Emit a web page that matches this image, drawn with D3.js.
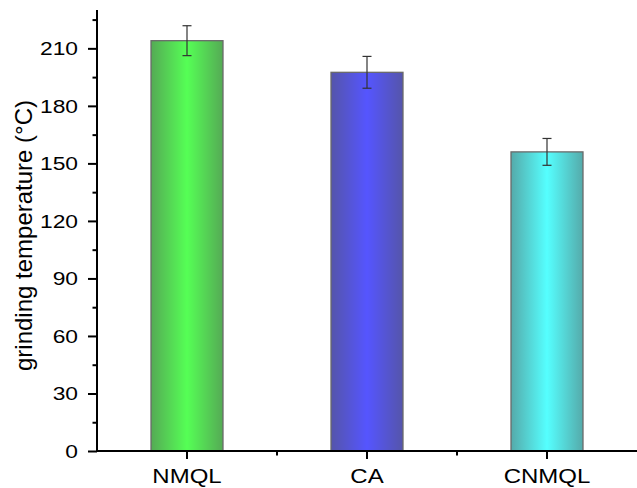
<!DOCTYPE html>
<html>
<head>
<meta charset="utf-8">
<script src="https://cdn.jsdelivr.net/npm/d3@7"></script>
<style>
  body { margin: 0; background: #fff; }
  svg { display: block; }
  text { font-family: "Liberation Sans", Arial, sans-serif; fill: #000; }
</style>
</head>
<body>
<svg id="chart" width="637" height="488"></svg>
<script>
// data
const groups = ["NMQL", "CA", "CNMQL"];
const temps = [214, 197.5, 156];
const errs = [7.8, 8.3, 7];
const edgeColors = ["#55aa55", "#5555aa", "#55aaaa"];
const midColors = ["#55ff55", "#5555ff", "#55ffff"];
const yTicks = [0, 30, 60, 90, 120, 150, 180, 210];

let svg = d3.select("#chart");
let plotLeft = 97, plotRight = 637, plotTop = 10, plotBottom = 451;
let stretch = 1.2; // the reference tick text looks wider than tall

let x = d3.scaleBand().domain(groups).range([plotLeft, plotRight]).padding(0);
let y = d3.scaleLinear().domain([0, 230]).range([plotBottom, plotTop]);
let barW = x.bandwidth() * 0.4;

// horizontal gradients: dark edges, bright middle
let defs = svg.append("defs");
groups.forEach(function (g, i) {
    let grad = defs.append("linearGradient")
        .attr("id", "grad" + i)
        .attr("x1", "0%").attr("x2", "100%").attr("y1", "0%").attr("y2", "0%");
    grad.append("stop").attr("offset", "0%").attr("stop-color", edgeColors[i]);
    grad.append("stop").attr("offset", "50%").attr("stop-color", midColors[i]);
    grad.append("stop").attr("offset", "100%").attr("stop-color", edgeColors[i]);
});

// bars
svg.append("g").selectAll("rect")
    .data(groups)
    .join("rect")
    .attr("x", d => x(d) + (x.bandwidth() - barW) / 2)
    .attr("y", (d, i) => y(temps[i]))
    .attr("width", barW)
    .attr("height", (d, i) => y(0) - y(temps[i]))
    .style("fill", (d, i) => "url(#grad" + i + ")")
    .style("stroke", "#6a6a6a")
    .style("stroke-width", 1.3);

// error bars
let eb = svg.append("g").attr("stroke", "#333").attr("stroke-width", 1.2);
groups.forEach(function (g, i) {
    let cx = x(g) + x.bandwidth() / 2;
    eb.append("line").attr("x1", cx).attr("x2", cx)
        .attr("y1", y(temps[i] + errs[i])).attr("y2", y(temps[i] - errs[i]));
    [temps[i] + errs[i], temps[i] - errs[i]].forEach(function (v) {
        eb.append("line").attr("x1", cx - 4.5).attr("x2", cx + 4.5)
            .attr("y1", y(v)).attr("y2", y(v));
    });
});

// y axis
let yAxis = svg.append("g").attr("transform", "translate(" + plotLeft + ",0)");
yAxis.call(d3.axisLeft(y).tickValues(d3.range(0, 230, 15)).tickSize(0).tickFormat(""));
yAxis.select(".domain").remove();
yAxis.append("line").attr("x1", 0).attr("x2", 0).attr("y1", plotTop).attr("y2", plotBottom + 1)
    .attr("stroke", "#000").attr("stroke-width", 2);
yAxis.selectAll(".tick line")
    .attr("x2", d => (d % 30 === 0 ? -9 : -4.5))
    .attr("stroke", "#000").attr("stroke-width", 2);
yAxis.selectAll(".ytl")
    .data(yTicks)
    .join("text")
    .attr("class", "ytl")
    .attr("transform", d => "translate(-19," + (y(d) + 6.8) + ") scale(" + stretch + ",1)")
    .attr("text-anchor", "end")
    .style("font-size", "19px")
    .text(d => d);

// x axis
let xAxis = svg.append("g").attr("transform", "translate(0," + plotBottom + ")");
xAxis.append("line").attr("x1", plotLeft - 1).attr("x2", plotRight).attr("y1", 0).attr("y2", 0)
    .attr("stroke", "#000").attr("stroke-width", 2);
xAxis.selectAll(".major")
    .data(groups)
    .join("line")
    .attr("class", "major")
    .attr("x1", d => x(d) + x.bandwidth() / 2).attr("x2", d => x(d) + x.bandwidth() / 2)
    .attr("y1", 0).attr("y2", 8)
    .attr("stroke", "#000").attr("stroke-width", 2);
xAxis.selectAll(".minor")
    .data(groups.slice(1))
    .join("line")
    .attr("class", "minor")
    .attr("x1", d => x(d)).attr("x2", d => x(d))
    .attr("y1", 0).attr("y2", 4.5)
    .attr("stroke", "#000").attr("stroke-width", 2);
xAxis.selectAll(".xtl")
    .data(groups)
    .join("text")
    .attr("class", "xtl")
    .attr("transform", d => "translate(" + (x(d) + x.bandwidth() / 2) + ",32) scale(" + stretch + ",1)")
    .attr("text-anchor", "middle")
    .style("font-size", "20px")
    .text(d => d);

// y label
svg.append("text")
    .attr("transform", "translate(32," + ((plotTop + plotBottom) / 2 + 5) + ") rotate(-90)")
    .attr("text-anchor", "middle")
    .style("font-size", "24px")
    .text("grinding temperature (°C)");
</script>
</body>
</html>
